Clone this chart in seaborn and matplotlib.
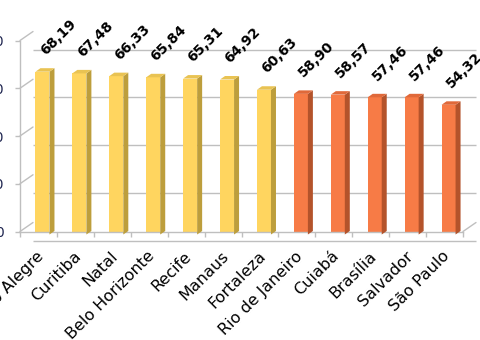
import matplotlib
matplotlib.use("Agg")
import matplotlib.pyplot as plt
import matplotlib.transforms as mtransforms
from matplotlib.patches import Polygon
import seaborn as sns
import pandas as pd
import numpy as np

cidades = ["Porto Alegre", "Curitiba", "Natal", "Belo Horizonte", "Recife", "Manaus",
           "Fortaleza", "Rio de Janeiro", "Cuiabá", "Brasília", "Salvador", "São Paulo"]
valores = [68.19, 67.48, 66.33, 65.84, 65.31, 64.92, 60.63, 58.90, 58.57, 57.46, 57.46, 54.32]
grupo = ["A"] * 7 + ["B"] * 5
y_ticks = [0, 20, 40, 60, 80]

front_col = {"A": "#FFD55F", "B": "#F77B46"}
side_col = {"A": "#BD9E3C", "B": "#B4532B"}
top_col = {"A": "#E9C353", "B": "#E0693A"}

df = pd.DataFrame({"cidade": cidades, "valor": valores, "grupo": grupo})

sns.set_theme(style="white")
plt.rcParams["font.family"] = ["DejaVu Sans"]

W, H = 480, 340
fig = plt.figure(figsize=(W / 100, H / 100), dpi=100)
fig.patch.set_facecolor("white")
# axes = front plane of the 3D box
ax = fig.add_axes([20 / W, (H - 231.5) / H, 443 / W, 191 / H])
ax.set_facecolor("none")

sns.barplot(data=df, x="cidade", y="valor", hue="grupo", palette=front_col,
            dodge=False, width=0.38, legend=False, ax=ax, saturation=1,
            edgecolor="none", linewidth=0)

ax.set_xlim(-0.5, len(cidades) - 0.5)
ax.set_ylim(0, 80)
ax.set_yticks(y_ticks)
ax.set_yticklabels([str(t) for t in y_ticks])
ax.set_xlabel("")
ax.set_ylabel("")

grid_c = "#BFBFBF"
dpi = fig.dpi
def off(dx, dy):
    return mtransforms.offset_copy(ax.transData, fig=fig, x=dx * 72 / dpi, y=dy * 72 / dpi, units="points")

wall = off(13, -9)
x0, x1 = -0.5, len(cidades) - 0.5
# back wall gridlines
ax.hlines(y_ticks, x0, x1, colors=grid_c, lw=1, transform=wall, zorder=0.5, clip_on=False)
# left wall diagonals and floor ends
disp = ax.transData
for t in y_ticks:
    p0 = disp.transform((x0, t))
    ax.plot([p0[0], p0[0] + 13], [p0[1], p0[1] + 9], color=grid_c, lw=1,
            transform=mtransforms.IdentityTransform(), zorder=0.5, clip_on=False)
p0 = disp.transform((x1, 0))
ax.plot([p0[0], p0[0] + 13], [p0[1], p0[1] + 9], color=grid_c, lw=1,
        transform=mtransforms.IdentityTransform(), zorder=0.5, clip_on=False)

for s in ["top", "right"]:
    ax.spines[s].set_visible(False)
for s in ["left", "bottom"]:
    ax.spines[s].set_color(grid_c)
    ax.spines[s].set_linewidth(1)

# bars: shift to mid depth and add 3D faces
bar_off = off(4, -3)
dvec = np.array([5.0, 3.5])
rects = [p for p in ax.patches if p.get_height() > 0]
rects.sort(key=lambda p: p.get_x())
for i, p in enumerate(rects):
    p.set_transform(bar_off)
    p.set_zorder(2)
    bx, bw, bh = p.get_x(), p.get_width(), p.get_height()
    TL = np.array(bar_off.transform((bx, bh)))
    TR = np.array(bar_off.transform((bx + bw, bh)))
    BR = np.array(bar_off.transform((bx + bw, 0)))
    g = grupo[i]
    side = Polygon([TR, TR + dvec, BR + dvec, BR], closed=True, facecolor=side_col[g],
                   edgecolor="none", transform=mtransforms.IdentityTransform(), zorder=1.9)
    top = Polygon([TL, TR, TR + dvec, TL + dvec], closed=True, facecolor=top_col[g],
                  edgecolor="none", transform=mtransforms.IdentityTransform(), zorder=2.1)
    fig.add_artist(side)
    fig.add_artist(top)
    ax.text(bx + bw / 2, bh, f"{valores[i]:.2f}".replace(".", ","), transform=off(7, 13),
            rotation=45, rotation_mode="anchor", ha="left", va="baseline",
            fontsize=10, fontweight="bold", color="black", zorder=3)

ax.tick_params(axis="y", which="major", length=3.6, width=1, color=grid_c, pad=8.3,
               labelsize=10, labelcolor="#1F2550", left=True)
ax.set_xticks(np.arange(len(cidades)))
ax.set_xticklabels(cidades)
ax.set_xticks(np.arange(len(cidades) + 1) - 0.5, minor=True)
ax.tick_params(axis="x", which="major", length=0, pad=16, labelsize=11.5, labelcolor="black")
ax.tick_params(axis="x", which="minor", length=3.6, width=1, color=grid_c, bottom=True)
shift = mtransforms.ScaledTranslation(3 / dpi, 0, fig.dpi_scale_trans)
for lab in ax.get_xticklabels():
    lab.set_rotation(45)
    lab.set_rotation_mode("anchor")
    lab.set_ha("right")
    lab.set_va("center")
    lab.set_transform(lab.get_transform() + shift)

fig.savefig("out.png", dpi=100)
